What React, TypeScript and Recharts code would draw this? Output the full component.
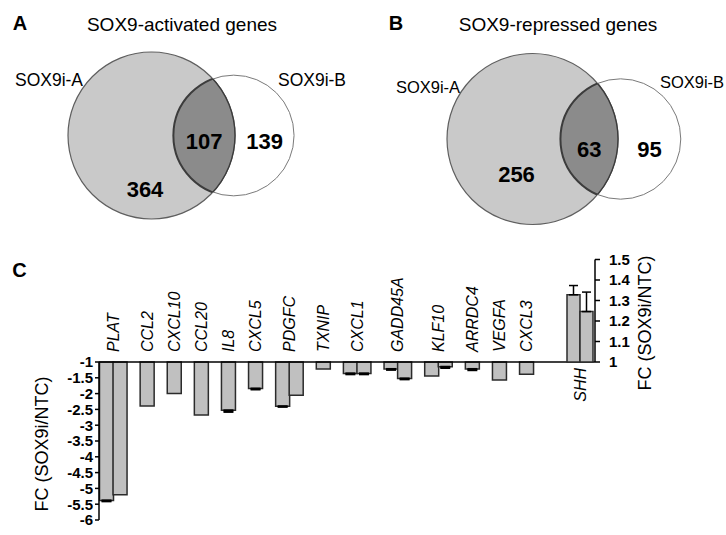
import React from 'react';
import {
  BarChart,
  Bar,
  XAxis,
  YAxis,
  ErrorBar,
  ScatterChart,
  Scatter,
  ZAxis
} from 'recharts';

const FONT = '"Liberation Sans", Arial, Helvetica, sans-serif';

// Panels A and B: genes only in SOX9i-A, in both, only in SOX9i-B
const setNames = ['SOX9i-A', 'SOX9i-B'];
const activatedCounts = [364, 107, 139];
const repressedCounts = [256, 63, 95];

// Panel C: fold change of the two knockdowns (second bar missing for some genes)
const genes = ['PLAT', 'CCL2', 'CXCL10', 'CCL20', 'IL8', 'CXCL5', 'PDGFC', 'TXNIP', 'CXCL1', 'GADD45A', 'KLF10', 'ARRDC4', 'VEGFA', 'CXCL3'];
const fcFirst = [-5.38, -2.39, -2.0, -2.68, -2.53, -1.84, -2.4, -1.22, -1.36, -1.22, -1.44, -1.22, -1.57, -1.39];
const fcSecond = [-5.2, null, null, null, null, null, -2.05, null, -1.36, -1.52, -1.15, null, null, null];
const errFirst = [0.03, 0, 0, 0, 0.05, 0.03, 0.02, 0, 0.03, 0.03, 0, 0.04, 0, 0];
const errSecond = [0, null, null, null, null, null, 0, null, 0.03, 0.03, 0.04, null, null, null];
const upGene = 'SHH';
const upFc = [1.328, 1.246];
const upErr = [0.045, 0.095];
const downTicks = [-1, -1.5, -2, -2.5, -3, -3.5, -4, -4.5, -5, -5.5, -6];
const upTicks = [1, 1.1, 1.2, 1.3, 1.4, 1.5];

// ---- venn geometry (area proportional) ----
function lensArea(d: number, r1: number, r2: number) {
  if (d >= r1 + r2) return 0;
  if (d <= Math.abs(r1 - r2)) return Math.PI * Math.min(r1, r2) ** 2;
  const a1 = Math.acos((d * d + r1 * r1 - r2 * r2) / (2 * d * r1));
  const a2 = Math.acos((d * d + r2 * r2 - r1 * r1) / (2 * d * r2));
  const k = Math.sqrt((-d + r1 + r2) * (d + r1 - r2) * (d - r1 + r2) * (d + r1 + r2));
  return r1 * r1 * a1 + r2 * r2 * a2 - 0.5 * k;
}

function centreDistance(r1: number, r2: number, overlap: number) {
  let lo = Math.abs(r1 - r2);
  let hi = r1 + r2;
  for (let i = 0; i < 60; i++) {
    const mid = (lo + hi) / 2;
    if (lensArea(mid, r1, r2) > overlap) lo = mid;
    else hi = mid;
  }
  return (lo + hi) / 2;
}

const VENN_W = 363;
const VENN_H = 240;

const vennActivated = { id: 'vact', cx: 151.5, cy: 135.5, radiusA: 83.5, lensDy: 6, onlyADx: -6.5, onlyADy: 53.5 };
const vennRepressed = { id: 'vrep', cx: 169.5, cy: 139, radiusA: 85.5, lensDy: 10.5, onlyADx: -16, onlyADy: 35.5 };

function radiusOf(p: any) {
  return p.width ? p.width / 2 : Math.sqrt((p.size || 0) / Math.PI);
}

function Venn({ counts, layout }: { counts: number[]; layout: any }) {
  const [onlyA, both, onlyB] = counts;
  const totalA = onlyA + both;
  const totalB = both + onlyB;
  const rA = Math.sqrt(totalA / Math.PI);
  const rB = Math.sqrt(totalB / Math.PI);
  const d = centreDistance(rA, rB, both);
  const k = layout.radiusA / rA;
  const xDomain = [-layout.cx / k, (VENN_W - layout.cx) / k];
  const yDomain = [-layout.cy / k, (VENN_H - layout.cy) / k];
  const zMax = totalA + totalB;
  const id = layout.id;

  const circleA = [{ x: 0, y: 0, z: totalA }];
  const circleB = [{ x: d, y: 0, z: totalB }];
  const numbers = [
    { x: (d - rB + rA) / 2, y: layout.lensDy / k, z: 0, text: both },
    { x: (rA + d + rB) / 2, y: layout.lensDy / k, z: 0, text: onlyB },
    { x: layout.onlyADx / k, y: layout.onlyADy / k, z: 0, text: onlyA }
  ];

  const shapeA = (p: any) => {
    const r = radiusOf(p);
    return (
      <g>
        <clipPath id={`${id}-a`}>
          <circle id={`${id}-ac`} cx={p.cx} cy={p.cy} r={r} />
        </clipPath>
        <circle cx={p.cx} cy={p.cy} r={r} fill="#c9c9c9" stroke="#5f5f5f" strokeWidth={1.2} />
      </g>
    );
  };
  const shapeB = (p: any) => {
    const r = radiusOf(p);
    return (
      <g>
        <clipPath id={`${id}-b`}>
          <circle cx={p.cx} cy={p.cy} r={r} />
        </clipPath>
        <circle cx={p.cx} cy={p.cy} r={r} fill="none" stroke="#7a7a7a" strokeWidth={1} />
        <circle cx={p.cx} cy={p.cy} r={r} fill="#8b8b8b" stroke="#3c3c3c" strokeWidth={2} clipPath={`url(#${id}-a)`} />
        <use href={`#${id}-ac`} fill="none" stroke="#3c3c3c" strokeWidth={1.4} clipPath={`url(#${id}-b)`} />
      </g>
    );
  };
  const shapeNumber = (p: any) => (
    <text x={p.cx} y={p.cy} dy="0.36em" textAnchor="middle" fontSize={22} fontWeight="bold" fill="#000">
      {p.payload ? p.payload.text : p.text}
    </text>
  );

  return (
    <ScatterChart width={VENN_W} height={VENN_H} margin={{ top: 0, right: 0, bottom: 0, left: 0 }}>
      <XAxis type="number" dataKey="x" domain={xDomain} hide allowDataOverflow />
      <YAxis type="number" dataKey="y" domain={yDomain} hide reversed allowDataOverflow />
      <ZAxis type="number" dataKey="z" domain={[0, zMax]} range={[0, zMax * k * k]} />
      <Scatter data={circleA} shape={shapeA} isAnimationActive={false} />
      <Scatter data={circleB} shape={shapeB} isAnimationActive={false} />
      <Scatter data={numbers} shape={shapeNumber} isAnimationActive={false} />
    </ScatterChart>
  );
}

// ---- bar panel ----
type Slot = { id: string; label: string; pair: boolean; fc: number | null; err: number[] | null };
const slots: Slot[] = [];
genes.forEach((g, i) => {
  const hasSecond = fcSecond[i] != null;
  slots.push({ id: `${g}-1`, label: g, pair: hasSecond, fc: fcFirst[i], err: errFirst[i] ? [errFirst[i], 0] : null });
  if (hasSecond) {
    const e = errSecond[i];
    slots.push({ id: `${g}-2`, label: '', pair: false, fc: fcSecond[i], err: e ? [e, 0] : null });
  }
  if (i < genes.length - 1) slots.push({ id: `gap-${i}`, label: '', pair: false, fc: null, err: null });
});
const slotById = new Map(slots.map((s) => [s.id, s]));

const upData = [{ gene: upGene, a: upFc[0], b: upFc[1], aErr: [0, upErr[0]], bErr: [0, upErr[1]] }];

const PLOT_LEFT = 99;
const PLOT_RIGHT = 595;
const SLOT_W = 13.55;
const PAD_LEFT = 0.5;
const PAD_RIGHT = PLOT_RIGHT - PLOT_LEFT - PAD_LEFT - slots.length * SLOT_W;

const BAR_FILL = '#c0c0c0';
const BAR_STROKE = '#2b2b2b';
const tickStyle = { fontSize: 15, fontWeight: 'bold', fill: '#000' };

function GeneTick(props: any) {
  const { x, y, payload } = props;
  const slot = slotById.get(payload.value);
  if (!slot || !slot.label) return <g />;
  const px = x + (slot.pair ? SLOT_W / 2 : 0);
  return (
    <text transform={`translate(${px},${y}) rotate(-90)`} textAnchor="start" dy="0.36em" fontSize={16} fontStyle="italic" fill="#000">
      {slot.label}
    </text>
  );
}

function UpTick(props: any) {
  const { x, y, payload } = props;
  return (
    <text transform={`translate(${x},${y}) rotate(-90)`} textAnchor="end" dy="0.36em" fontSize={16} fontStyle="italic" fill="#000">
      {payload.value}
    </text>
  );
}

function Txt({ x, y, size, bold, rotate, children }: any) {
  return (
    <div
      style={{
        position: 'absolute',
        left: x,
        top: y,
        fontSize: size,
        fontWeight: bold ? 'bold' : 'normal',
        lineHeight: 1,
        whiteSpace: 'nowrap',
        transform: `translate(-50%,-50%)${rotate ? ' rotate(-90deg)' : ''}`
      }}
    >
      {children}
    </div>
  );
}

export default function App() {
  return (
    <div style={{ position: 'absolute', left: 0, top: 0, width: 726, height: 535, background: '#fff', fontFamily: FONT, color: '#000', overflow: 'hidden' }}>
      <div style={{ position: 'absolute', left: 0, top: 0 }}>
        <Venn counts={activatedCounts} layout={vennActivated} />
      </div>
      <div style={{ position: 'absolute', left: 363, top: 0 }}>
        <Venn counts={repressedCounts} layout={vennRepressed} />
      </div>

      <Txt x={20} y={22.5} size={20} bold>A</Txt>
      <Txt x={396} y={23} size={20} bold>B</Txt>
      <Txt x={19.5} y={270} size={20} bold>C</Txt>
      <Txt x={182} y={24} size={19}>SOX9-activated genes</Txt>
      <Txt x={558} y={24} size={19}>SOX9-repressed genes</Txt>
      <Txt x={49} y={81} size={17.5}>{setNames[0]}</Txt>
      <Txt x={312} y={81} size={17.5}>{setNames[1]}</Txt>
      <Txt x={428} y={86.5} size={16.5}>{setNames[0]}</Txt>
      <Txt x={692} y={81.5} size={16.5}>{setNames[1]}</Txt>

      <div style={{ position: 'absolute', left: 0, top: 250 }}>
        <BarChart width={726} height={285} data={slots} margin={{ top: 0, right: 726 - PLOT_RIGHT, bottom: 15, left: 0 }} barCategoryGap={0} barGap={0}>
          <XAxis
            dataKey="id"
            type="category"
            orientation="top"
            height={112}
            interval={0}
            tickLine={false}
            tickSize={0}
            tickMargin={10}
            axisLine={{ stroke: '#000', strokeWidth: 1.5 }}
            padding={{ left: PAD_LEFT, right: PAD_RIGHT }}
            tick={(p: any) => <GeneTick {...p} />}
          />
          <YAxis
            type="number"
            width={PLOT_LEFT}
            domain={[-6, -1]}
            ticks={downTicks}
            interval={0}
            tickSize={4}
            tickMargin={2}
            axisLine={{ stroke: '#000', strokeWidth: 1.5 }}
            tickLine={{ stroke: '#000', strokeWidth: 1.5 }}
            tick={tickStyle}
          />
          <Bar dataKey="fc" fill={BAR_FILL} stroke={BAR_STROKE} strokeWidth={1.5} isAnimationActive={false}>
            <ErrorBar dataKey="err" direction="y" width={5} stroke="#000" strokeWidth={2} />
          </Bar>
        </BarChart>
      </div>

      <div style={{ position: 'absolute', left: 0, top: 250 }}>
        <BarChart width={726} height={160} data={upData} margin={{ top: 9.5, right: 71, bottom: 0, left: PLOT_LEFT }} barCategoryGap={0} barGap={0}>
          <XAxis
            dataKey="gene"
            type="category"
            height={48}
            interval={0}
            axisLine={false}
            tickLine={false}
            tickSize={0}
            tickMargin={6}
            padding={{ left: 468, right: 2 }}
            tick={(p: any) => <UpTick {...p} />}
          />
          <YAxis
            type="number"
            orientation="right"
            width={60}
            domain={[1, 1.5]}
            ticks={upTicks}
            interval={0}
            tickSize={5}
            tickMargin={9}
            axisLine={{ stroke: '#000', strokeWidth: 1.5 }}
            tickLine={{ stroke: '#000', strokeWidth: 1.5 }}
            tick={tickStyle}
          />
          <Bar dataKey="a" fill={BAR_FILL} stroke={BAR_STROKE} strokeWidth={1.5} isAnimationActive={false}>
            <ErrorBar dataKey="aErr" direction="y" width={4.5} stroke="#000" strokeWidth={1.5} />
          </Bar>
          <Bar dataKey="b" fill={BAR_FILL} stroke={BAR_STROKE} strokeWidth={1.5} isAnimationActive={false}>
            <ErrorBar dataKey="bErr" direction="y" width={4.5} stroke="#000" strokeWidth={1.5} />
          </Bar>
        </BarChart>
      </div>

      <Txt x={42} y={444} size={18} rotate>FC (SOX9i/NTC)</Txt>
      <Txt x={645} y={323} size={18} rotate>FC (SOX9i/NTC)</Txt>
    </div>
  );
}
